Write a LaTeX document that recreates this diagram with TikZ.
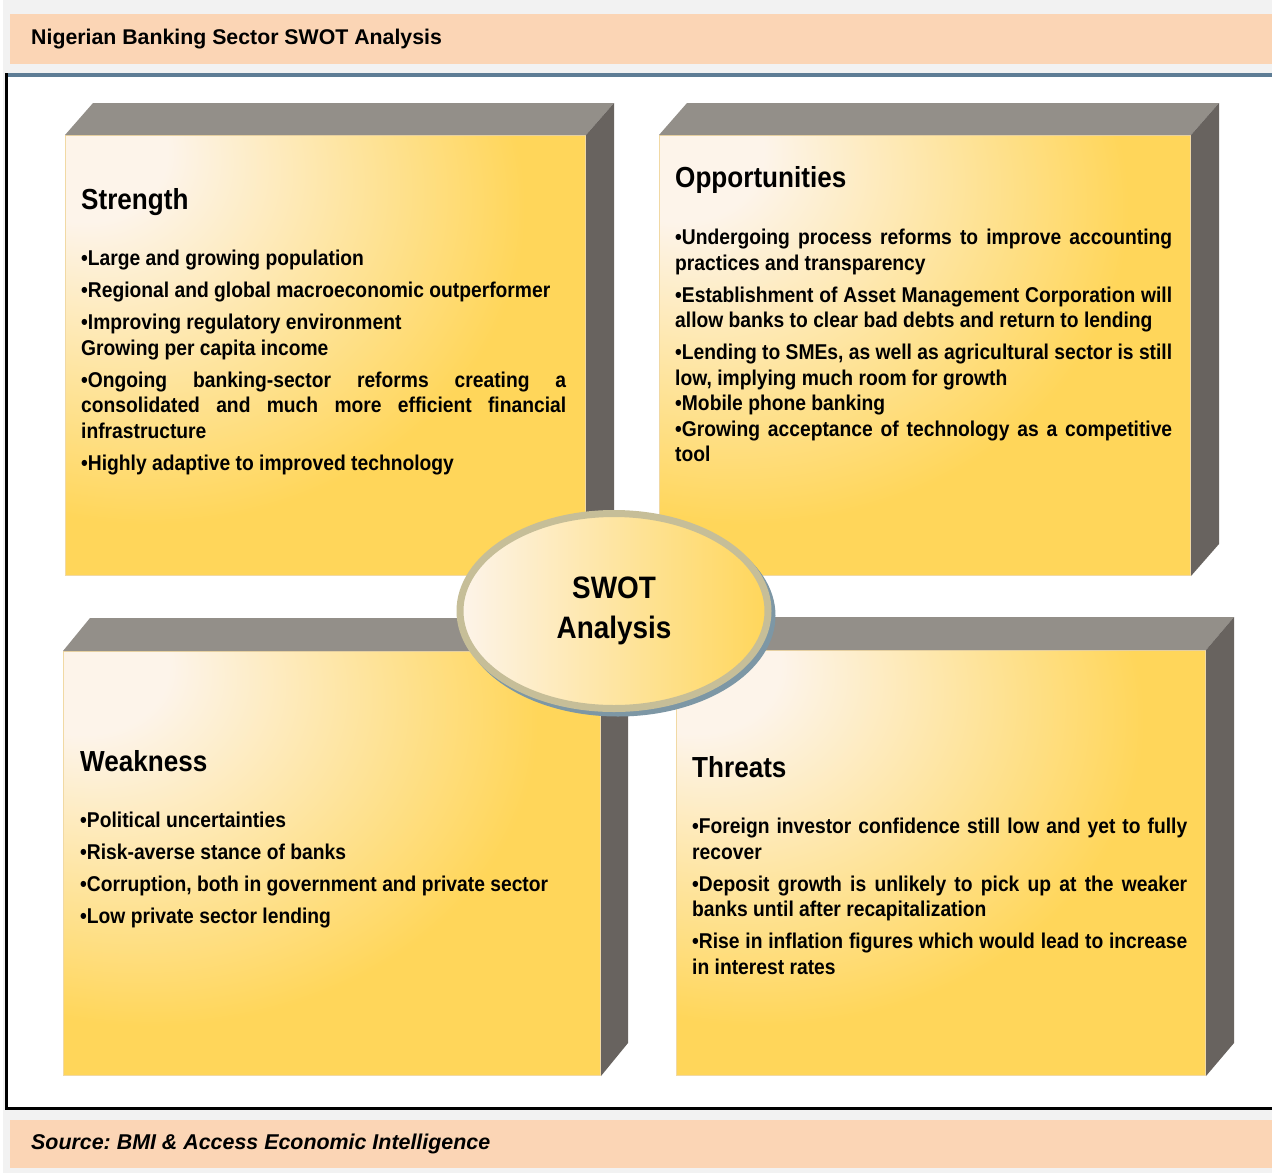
\documentclass[tikz,border=0pt]{standalone}
\usepackage{fontspec}
\setmainfont{Liberation Sans}
\newfontfamily\swotfont{Liberation Sans}[FakeStretch=0.9]
\usepackage{tikz}
\usetikzlibrary{shapes.geometric}

\definecolor{pagegray}{HTML}{F2F2F2}
\definecolor{bandpeach}{HTML}{FBD5B5}
\definecolor{frameblue}{HTML}{5E7D95}
\definecolor{swottop}{HTML}{938F89}
\definecolor{swotside}{HTML}{68635F}
\definecolor{swotlight}{HTML}{FDF4EA}
\definecolor{swotyellow}{HTML}{FFD65A}
\definecolor{swotedge}{HTML}{F1D9A4}
\definecolor{swotrim}{HTML}{C6BE98}
\definecolor{swotshadow}{HTML}{7D97A5}

\pgfdeclareradialshading{swotglow}{\pgfpoint{-25bp}{25bp}}{color(0bp)=(swotlight); color(8bp)=(swotlight); color(36bp)=(swotyellow); color(110bp)=(swotyellow)}

\frenchspacing
\begin{document}
\begin{tikzpicture}[x=1pt,y=-1pt,
    front/.style={shading=swotglow,draw=swotedge,line width=1pt,inner sep=0pt,anchor=north west},
    topface/.style={fill=swottop},
    sideface/.style={fill=swotside},
    head/.style={anchor=base west,inner sep=0pt,font=\swotfont\bfseries\fontsize{29}{34}\selectfont},
    body/.style={anchor=base west,inner sep=0pt,text width=#1,align=justify,
        font=\swotfont\bfseries\fontsize{21.4}{25.5}\selectfont,
        execute at begin node={\setlength{\parskip}{6.5pt}\tolerance=10000\hyphenpenalty=10000\exhyphenpenalty=10000}},
    oval/.style={ellipse,minimum width=308pt,minimum height=195pt,inner sep=0pt,draw=swotrim,line width=7pt,
        left color=swotlight,right color=swotyellow,align=center,
        font=\swotfont\bfseries\fontsize{31}{40}\selectfont},
    band/.style={fill=bandpeach}]
    \useasboundingbox (0,0) rectangle (1272,1173);
    \fill[pagegray] (3,0) rectangle (1272,1173);

    % title and source bands
    \fill[band] (10,14) rectangle (1272,64);
    \node[anchor=base west,inner sep=0pt,font=\bfseries\fontsize{21.3}{25}\selectfont] (title) at (31,44) {Nigerian Banking Sector SWOT Analysis};
    \fill[band] (10,1120) rectangle (1272,1168);
    \node[anchor=base west,inner sep=0pt,font=\bfseries\itshape\fontsize{21.4}{25}\selectfont] (source) at (31,1149.5) {Source: BMI \& Access Economic Intelligence};

    % frame
    \fill[white] (5,73) rectangle (1272,1109);
    \draw[frameblue,line width=4pt] (5,74.5) -- (1272,74.5);
    \draw[black,line width=3pt] (6,73) -- (6,1108.5) -- (1272,1108.5);

    % the four blocks
    \node[front,minimum width=520pt,minimum height=440pt] (strength) at (65,135) {};
    \node[front,minimum width=531pt,minimum height=440pt] (opport) at (659,135) {};
    \node[front,minimum width=537pt,minimum height=424pt] (weak) at (63,651) {};
    \node[front,minimum width=529pt,minimum height=425pt] (threat) at (676,650) {};

    \fill[topface] (strength.north west) -- ([shift={(28,-32)}]strength.north west) -- ([shift={(28,-32)}]strength.north east) -- (strength.north east) -- cycle;
    \fill[sideface] (strength.north east) -- ([shift={(28,-32)}]strength.north east) -- ([shift={(28,-32)}]strength.south east) -- (strength.south east) -- cycle;
    \fill[topface] (opport.north west) -- ([shift={(28,-32)}]opport.north west) -- ([shift={(28,-32)}]opport.north east) -- (opport.north east) -- cycle;
    \fill[sideface] (opport.north east) -- ([shift={(28,-32)}]opport.north east) -- ([shift={(28,-32)}]opport.south east) -- (opport.south east) -- cycle;
    \fill[topface] (weak.north west) -- ([shift={(27,-33)}]weak.north west) -- ([shift={(27,-33)}]weak.north east) -- (weak.north east) -- cycle;
    \fill[sideface] (weak.north east) -- ([shift={(27,-33)}]weak.north east) -- ([shift={(27,-33)}]weak.south east) -- (weak.south east) -- cycle;
    \fill[topface] (threat.north west) -- ([shift={(28,-33)}]threat.north west) -- ([shift={(28,-33)}]threat.north east) -- (threat.north east) -- cycle;
    \fill[sideface] (threat.north east) -- ([shift={(28,-33)}]threat.north east) -- ([shift={(28,-33)}]threat.south east) -- (threat.south east) -- cycle;

    % texts
    \node[head] (strengthhead) at (81,209.5) {Strength};
    \node[body=485pt] (strengthtext) at (81,265.5) {%
        •Large and growing population\par
        •Regional and global macroeconomic outperformer\par
        •Improving regulatory environment\newline Growing per capita income\par
        •Ongoing banking-sector reforms creating a\linebreak consolidated and much more efficient financial\linebreak infrastructure\par
        •Highly adaptive to improved technology};

    \node[head] (opporthead) at (675,187.5) {Opportunities};
    \node[body=497pt] (opporttext) at (675,244.5) {%
        •Undergoing process reforms to improve accounting\linebreak practices and transparency\par
        •Establishment of Asset Management Corporation will\linebreak allow banks to clear bad debts and return to lending\par
        •Lending to SMEs, as well as agricultural sector is still\linebreak low, implying much room for growth\newline
        •Mobile phone banking\newline
        •Growing acceptance of technology as a competitive\linebreak tool};

    \node[head] (weakhead) at (80,771.5) {Weakness};
    \node[body=485pt] (weaktext) at (80,827.5) {%
        •Political uncertainties\par
        •Risk-averse stance of banks\par
        •Corruption, both in government and private sector\par
        •Low private sector lending};

    \node[head] (threathead) at (692,777.5) {Threats};
    \node[body=495pt] (threattext) at (692,833.5) {%
        •Foreign investor confidence still low and yet to fully\linebreak recover\par
        •Deposit growth is unlikely to pick up at the weaker\linebreak banks until after recapitalization\par
        •Rise in inflation figures which would lead to increase\linebreak in interest rates};

    % centre oval
    \fill[swotshadow] (618,615.5) ellipse [x radius=157.5, y radius=101];
    \node[oval] (swot) at (614,611) {SWOT\\Analysis};
\end{tikzpicture}
\end{document}
